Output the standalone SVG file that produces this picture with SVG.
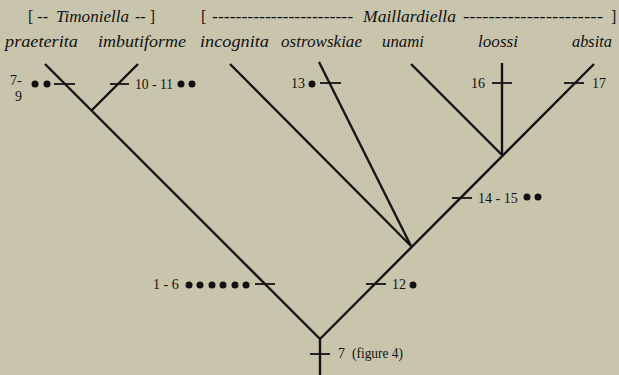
<svg xmlns="http://www.w3.org/2000/svg" width="619" height="375" viewBox="0 0 619 375">
<style>
.bg{fill:#c9c5ad}
.ln{stroke:#141414;stroke-width:2.4;fill:none;stroke-linecap:butt}
.tk{stroke:#141414;stroke-width:1.8;fill:none}
.sp{font-family:"Liberation Serif",serif;font-style:italic;font-size:17px;fill:#111}
.hd{font-family:"Liberation Serif",serif;font-size:16px;fill:#111}
.hi{font-family:"Liberation Serif",serif;font-style:italic;font-size:17px;fill:#111}
.nm{font-family:"Liberation Serif",serif;font-size:14px;fill:#111}
.dt{fill:#111}
</style>
<defs>
<circle id="dot" r="3.5" class="dt"/>
</defs>
<rect class="bg" x="0" y="0" width="619" height="375"/>

<g id="headers">
<text class="hd" x="28" y="22">[ --</text>
<text class="hi" x="56" y="22" textLength="73" lengthAdjust="spacingAndGlyphs">Timoniella</text>
<text class="hd" x="135" y="22">-- ]</text>
<text class="hd" x="201" y="22">[</text>
<text class="hd" x="212" y="22" textLength="141" lengthAdjust="spacingAndGlyphs">------------------------</text>
<text class="hi" x="363" y="22" textLength="93" lengthAdjust="spacingAndGlyphs">Maillardiella</text>
<text class="hd" x="463" y="22" textLength="140" lengthAdjust="spacingAndGlyphs">----------------------</text>
<text class="hd" x="611" y="22">]</text>
</g>

<g id="taxa">
<text class="sp" x="5" y="47" textLength="73" lengthAdjust="spacingAndGlyphs">praeterita</text>
<text class="sp" x="98" y="47" textLength="88" lengthAdjust="spacingAndGlyphs">imbutiforme</text>
<text class="sp" x="200" y="47" textLength="69" lengthAdjust="spacingAndGlyphs">incognita</text>
<text class="sp" x="281" y="47" textLength="81" lengthAdjust="spacingAndGlyphs">ostrowskiae</text>
<text class="sp" x="382" y="47" textLength="42" lengthAdjust="spacingAndGlyphs">unami</text>
<text class="sp" x="478" y="47" textLength="40" lengthAdjust="spacingAndGlyphs">loossi</text>
<text class="sp" x="572" y="47" textLength="40" lengthAdjust="spacingAndGlyphs">absita</text>
</g>

<g id="connectors">
<line class="ln" x1="45" y1="64" x2="320" y2="339"/>
<line class="ln" x1="138" y1="64" x2="92" y2="110"/>
<line class="ln" x1="594" y1="64" x2="320" y2="339"/>
<line class="ln" x1="230" y1="64" x2="411" y2="246"/>
<line class="ln" x1="319" y1="62" x2="411" y2="246"/>
<line class="ln" x1="411" y1="64" x2="502" y2="155"/>
<line class="ln" x1="502" y1="63" x2="502" y2="155"/>
<line class="ln" x1="320" y1="338" x2="320" y2="375"/>
</g>

<g id="char-7-9">
<line class="tk" x1="54" y1="84" x2="75" y2="84"/>
<text class="nm" x="10" y="85">7-</text>
<text class="nm" x="15" y="101">9</text>
<use href="#dot" x="35" y="84"/>
<use href="#dot" x="47" y="84"/>
</g>
<g id="char-10-11">
<line class="tk" x1="110" y1="84" x2="129" y2="84"/>
<text class="nm" x="135" y="89" textLength="38" lengthAdjust="spacingAndGlyphs">10 - 11</text>
<use href="#dot" x="181" y="84"/>
<use href="#dot" x="192" y="84"/>
</g>
<g id="char-13">
<line class="tk" x1="320" y1="83" x2="341" y2="83"/>
<text class="nm" x="291" y="88">13</text>
<use href="#dot" x="312" y="84"/>
</g>
<g id="char-16">
<line class="tk" x1="492" y1="83" x2="512" y2="83"/>
<text class="nm" x="471" y="88">16</text>
</g>
<g id="char-17">
<line class="tk" x1="564" y1="83" x2="584" y2="83"/>
<text class="nm" x="592" y="88">17</text>
</g>
<g id="char-14-15">
<line class="tk" x1="452" y1="198" x2="472" y2="198"/>
<text class="nm" x="478" y="203">14 - 15</text>
<use href="#dot" x="527" y="197"/>
<use href="#dot" x="538" y="197"/>
</g>
<g id="char-12">
<line class="tk" x1="366" y1="284" x2="386" y2="284"/>
<text class="nm" x="392" y="289">12</text>
<use href="#dot" x="413" y="285"/>
</g>
<g id="char-1-6">
<line class="tk" x1="255" y1="284" x2="275" y2="284"/>
<text class="nm" x="153" y="289">1 - 6</text>
<use href="#dot" x="189" y="285"/>
<use href="#dot" x="200" y="285"/>
<use href="#dot" x="212" y="285"/>
<use href="#dot" x="223" y="285"/>
<use href="#dot" x="235" y="285"/>
<use href="#dot" x="246" y="285"/>
</g>
<g id="char-7">
<line class="tk" x1="310" y1="354" x2="330" y2="354"/>
<text class="nm" x="338" y="358">7</text>
<text class="nm" x="352" y="358" font-size="13px" textLength="51" lengthAdjust="spacingAndGlyphs">(figure 4)</text>
</g>
</svg>
